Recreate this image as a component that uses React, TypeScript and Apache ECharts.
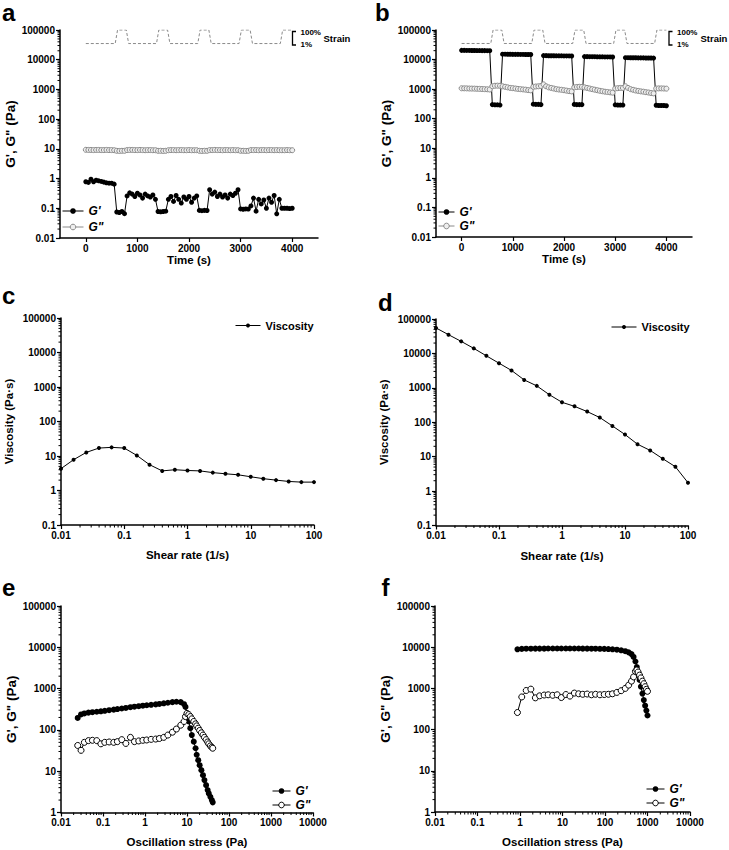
import React, { useEffect, useRef } from 'react';
import * as echarts from 'echarts';

const FONT = '"Liberation Sans", Arial, Helvetica, sans-serif';

// ---------- Panels a & b : time sweep ----------
const timeS = [
  0, 50, 100, 150, 200, 250, 300, 350, 400, 450, 500, 550,
  600, 650, 700, 750,
  800, 850, 900, 950, 1000, 1050, 1100, 1150, 1200, 1250, 1300, 1350,
  1400, 1450, 1500, 1550,
  1600, 1650, 1700, 1750, 1800, 1850, 1900, 1950, 2000, 2050, 2100, 2150,
  2200, 2250, 2300, 2350,
  2400, 2450, 2500, 2550, 2600, 2650, 2700, 2750, 2800, 2850, 2900, 2950,
  3000, 3050, 3100, 3150,
  3200, 3250, 3300, 3350, 3400, 3450, 3500, 3550, 3600, 3650, 3700, 3750,
  3800, 3850, 3900, 3950, 4000,
];
const gPrimeA = [
  0.78, 0.74, 0.95, 0.78, 0.88, 0.84, 0.8, 0.76, 0.72, 0.7, 0.7, 0.65,
  0.075, 0.072, 0.078, 0.066,
  0.26, 0.33, 0.3, 0.25, 0.32, 0.28, 0.22, 0.3, 0.26, 0.24, 0.28, 0.2,
  0.078, 0.076, 0.078, 0.08,
  0.2, 0.25, 0.17, 0.27, 0.2, 0.15, 0.24, 0.2, 0.25, 0.16, 0.22, 0.26,
  0.085, 0.083, 0.085, 0.084,
  0.42, 0.3, 0.35, 0.25, 0.3, 0.24, 0.28, 0.22, 0.3, 0.27, 0.32, 0.42,
  0.095, 0.093, 0.095, 0.094,
  0.12, 0.22, 0.08, 0.2, 0.14, 0.19, 0.1, 0.22, 0.16, 0.27, 0.065, 0.2,
  0.1, 0.1, 0.1, 0.098, 0.1,
];
const gDoublePrimeA = [
  9.3, 9.2, 9.2, 9.1, 9.2, 9.2, 9.1, 9.1, 9.2, 9.1, 9.1, 9.0,
  8.6, 8.5, 8.6, 8.6,
  9.1, 9.2, 9.2, 9.1, 9.1, 9.2, 9.1, 9.0, 9.1, 9.1, 9.0, 9.0,
  8.6, 8.6, 8.5, 8.6,
  9.0, 9.1, 9.1, 9.0, 9.1, 9.1, 9.0, 9.0, 9.1, 9.0, 9.0, 9.0,
  8.6, 8.5, 8.6, 8.6,
  9.1, 9.1, 9.2, 9.1, 9.1, 9.0, 9.1, 9.1, 9.0, 9.1, 9.0, 9.0,
  8.6, 8.6, 8.5, 8.6,
  9.1, 9.1, 9.1, 9.0, 9.1, 9.1, 9.0, 9.1, 9.1, 9.0, 9.1, 9.0,
  9.0, 9.0, 9.1, 9.0, 9.0,
];
const gPrimeB = [
  20500, 20500, 20400, 20400, 20300, 20300, 20200, 20200, 20100, 20100, 20000, 20000,
  300, 295, 295, 290,
  15200, 15200, 15100, 15100, 15000, 15000, 15000, 14900, 14900, 14800, 14800, 14800,
  310, 305, 305, 300,
  13600, 13600, 13500, 13500, 13500, 13400, 13400, 13400, 13300, 13300, 13300, 13200,
  305, 300, 300, 300,
  12600, 12600, 12500, 12500, 12500, 12400, 12400, 12400, 12300, 12300, 12300, 12200,
  295, 290, 290, 290,
  11600, 11600, 11500, 11500, 11500, 11400, 11400, 11400, 11300, 11300, 11300, 11200,
  285, 280, 280, 280, 275,
];
const gDoublePrimeB = [
  1070, 1065, 1060, 1050, 1045, 1040, 1030, 1020, 1010, 1000, 990, 970,
  1250, 1300, 1310, 1300,
  1250, 1200, 1150, 1100, 1080, 1050, 1020, 1000, 980, 960, 930, 910,
  1200, 1230, 1250, 1280,
  1450, 1250, 1150, 1100, 1050, 1000, 970, 950, 920, 890, 860, 840,
  1150, 1180, 1200, 1190,
  1150, 1100, 1050, 1000, 960, 920, 880, 850, 820, 800, 780, 760,
  1050, 1080, 1100, 1100,
  1250, 1100, 1000, 950, 900, 870, 840, 820, 790, 770, 740, 720,
  1050, 1060, 1060, 1050, 1040,
];
// schematic strain programme (1% / 100%) drawn at the top of panels a & b
const strainTime = [0, 570, 615, 785, 830, 1370, 1415, 1585, 1630, 2170, 2215, 2385, 2430, 2970, 3015, 3185, 3230, 3770, 3815, 4000];
const strainLevel = [35000, 35000, 100000, 100000, 35000, 35000, 100000, 100000, 35000, 35000, 100000, 100000, 35000, 35000, 100000, 100000, 35000, 35000, 100000, 100000];

// ---------- Panels c & d : flow curves ----------
const shearRate = [0.01, 0.0158, 0.0251, 0.0398, 0.0631, 0.1, 0.158, 0.251, 0.398, 0.631, 1, 1.58, 2.51, 3.98, 6.31, 10, 15.8, 25.1, 39.8, 63.1, 100];
const viscosityC = [4.3, 7.8, 12.7, 17, 17.8, 17, 10.4, 5.6, 3.7, 4.0, 3.8, 3.7, 3.3, 3.05, 2.85, 2.5, 2.2, 2.0, 1.83, 1.75, 1.75];
const viscosityD = [55000, 35000, 22400, 14000, 8500, 5200, 3200, 1700, 1140, 630, 380, 290, 204, 137, 78, 44, 23, 15.2, 8.7, 5.1, 1.75];

// ---------- Panels e & f : stress sweeps ----------
const stressE = [
  0.025, 0.03, 0.036, 0.045, 0.056, 0.071, 0.089, 0.11, 0.14, 0.18,
  0.22, 0.28, 0.35, 0.45, 0.56, 0.71, 0.89, 1.1, 1.4, 1.8,
  2.2, 2.8, 3.5, 4.5, 5.6, 7.1, 8.5, 9.2, 10, 11,
  12, 13, 14.5, 16, 17, 18.5, 20, 22, 24, 26,
  28.5, 31, 33, 36, 39, 41,
];
const gPrimeE = [
  195, 237, 250, 262, 268, 275, 282, 290, 300, 310,
  320, 330, 340, 355, 365, 375, 385, 395, 405, 415,
  425, 440, 455, 470, 480, 470, 420, 360, 250, 160,
  110, 75, 52, 36, 25, 18.5, 14, 10.6, 8, 6.1,
  4.6, 3.5, 2.9, 2.4, 2.0, 1.76,
];
const gDoublePrimeE = [
  42, 32, 50, 55, 56, 55, 46, 50, 51, 50,
  52, 58, 47, 66, 52, 54, 56, 57, 59, 60,
  62, 66, 75, 88, 105, 130, 160, 210, 250, 235,
  210, 185, 160, 140, 125, 110, 97, 85, 75, 66,
  58, 51, 46, 41, 38, 36,
];
const stressF = [
  0.87, 1.1, 1.4, 1.8, 2.3, 2.9, 3.7, 4.6, 5.9, 7.5,
  9.4, 12, 15, 19, 24, 30, 38, 48, 60, 76,
  96, 120, 150, 190, 240, 300, 360, 420, 470, 520,
  560, 600, 650, 700, 760, 820, 880, 940, 1000,
];
const gPrimeF = [
  8900, 9100, 9200, 9200, 9250, 9250, 9250, 9300, 9300, 9300,
  9300, 9300, 9300, 9300, 9300, 9250, 9250, 9200, 9200, 9150,
  9100, 9000, 8900, 8700, 8400, 8000, 7500, 6800, 5800, 4500,
  3300, 2300, 1600, 1100, 750, 520, 380, 290, 220,
];
const gDoublePrimeF = [
  260, 620, 890, 960, 590, 660, 690, 700, 680, 700,
  600, 710, 650, 770, 740, 720, 730, 700, 720, 700,
  710, 720, 740, 800, 880, 1000, 1200, 1500, 1900, 2600,
  2800, 2500, 2100, 1800, 1500, 1300, 1100, 950, 850,
];

const timeTicks = [0, 1000, 2000, 3000, 4000];

// ---------- helpers ----------
const zip = (xs: number[], ys: number[]) => xs.map((x, i) => [x, ys[i]]);

// log-axis minor tick positions (2..9 x 10^k) — axis decoration, not data
const minorLogTicks = (kFrom: number, kTo: number) => {
  const out: number[] = [];
  for (let k = kFrom; k <= kTo; k++) {
    for (let m = 2; m <= 9; m++) out.push(parseFloat((m * Math.pow(10, k)).toPrecision(6)));
  }
  return out;
};

const logLabel = (v: number) => String(parseFloat(Number(v).toPrecision(6)));

const tickLabel = {
  color: '#000',
  fontSize: 10,
  fontWeight: 'bold' as const,
  fontFamily: FONT,
  margin: 5,
};
const nameStyle = {
  color: '#000',
  fontSize: 11.5,
  fontWeight: 'bold' as const,
  fontFamily: FONT,
};
const gNameStyle = { ...nameStyle, fontSize: 13.5 };
const axisLine = { show: true, onZero: false, lineStyle: { color: '#000', width: 1.5 } };
const axisTick = { show: true, length: 4, lineStyle: { color: '#000', width: 1.2 } };

function logAxis(gridIndex: number, min: number, max: number, name: string, nameGap: number, nStyle: any = nameStyle) {
  return {
    type: 'log',
    logBase: 10,
    gridIndex,
    min,
    max,
    name,
    nameLocation: 'middle',
    nameGap,
    nameTextStyle: nStyle,
    axisLine,
    axisTick,
    axisLabel: { ...tickLabel, formatter: logLabel },
    splitLine: { show: false },
  };
}

function timeAxis(gridIndex: number, nameGap: number) {
  return {
    type: 'value',
    gridIndex,
    min: -500,
    max: 4500,
    name: 'Time (s)',
    nameLocation: 'middle',
    nameGap,
    nameTextStyle: nameStyle,
    axisLine,
    axisTick: { ...axisTick, customValues: timeTicks },
    axisLabel: {
      ...tickLabel,
      customValues: timeTicks,
      formatter: (v: number) => (v % 1000 === 0 && v >= 0 && v <= 4000 ? String(v) : ''),
    },
    splitLine: { show: false },
  };
}

function yMinor(idx: number, xAt: number, vals: number[]) {
  return {
    type: 'custom',
    xAxisIndex: idx,
    yAxisIndex: idx,
    silent: true,
    z: 1,
    data: vals.map((v) => [xAt, v]),
    renderItem: (_p: any, api: any) => {
      const p = api.coord([api.value(0), api.value(1)]);
      return {
        type: 'line',
        shape: { x1: p[0] - 2.5, y1: p[1], x2: p[0], y2: p[1] },
        style: { stroke: '#000', lineWidth: 1 },
      };
    },
  };
}
function xMinor(idx: number, yAt: number, vals: number[]) {
  return {
    type: 'custom',
    xAxisIndex: idx,
    yAxisIndex: idx,
    silent: true,
    z: 1,
    data: vals.map((v) => [v, yAt]),
    renderItem: (_p: any, api: any) => {
      const p = api.coord([api.value(0), api.value(1)]);
      return {
        type: 'line',
        shape: { x1: p[0], y1: p[1], x2: p[0], y2: p[1] + 2.5 },
        style: { stroke: '#000', lineWidth: 1 },
      };
    },
  };
}

const blackStyle = { itemStyle: { color: '#000' }, lineStyle: { color: '#000', width: 1 } };
const greyOpen = {
  itemStyle: { color: '#eeeeee', borderColor: '#8a8a8a', borderWidth: 1 },
  lineStyle: { color: '#8a8a8a', width: 1 },
};
const blackOpen = {
  itemStyle: { color: '#ffffff', borderColor: '#000', borderWidth: 1 },
  lineStyle: { color: '#000', width: 1 },
};

function lineSeries(name: string, idx: number, data: number[][], size: number, style: any, z = 3) {
  return {
    type: 'line',
    name,
    xAxisIndex: idx,
    yAxisIndex: idx,
    data,
    symbol: 'circle',
    symbolSize: size,
    showSymbol: true,
    z,
    ...style,
  };
}

const legendText = { color: '#000', fontSize: 12, fontWeight: 'bold' as const, fontStyle: 'italic' as const, fontFamily: FONT };

function gLegend(left: number, top: number, width: number, gap: number, gppStyle: any) {
  return {
    orient: 'vertical',
    left,
    top,
    padding: 0,
    itemWidth: width,
    itemHeight: 7,
    itemGap: gap,
    selectedMode: false,
    textStyle: legendText,
    data: [
      { name: "G'", itemStyle: blackStyle.itemStyle, lineStyle: blackStyle.lineStyle },
      { name: 'G"', itemStyle: gppStyle.itemStyle, lineStyle: gppStyle.lineStyle },
    ],
  };
}

function strainAnnotation(bx: number, tx: number, sx: number) {
  return [
    {
      type: 'polyline',
      shape: { points: [[bx + 3.5, 31.5], [bx, 31.5], [bx, 45], [bx + 3.5, 45]] },
      style: { stroke: '#000', lineWidth: 1.3, fill: null },
    },
    { type: 'text', x: tx, y: 32, style: { text: '100%', fill: '#000', fontSize: 8, fontWeight: 'bold', fontFamily: FONT, verticalAlign: 'middle' } },
    { type: 'text', x: tx, y: 44, style: { text: '1%', fill: '#000', fontSize: 8, fontWeight: 'bold', fontFamily: FONT, verticalAlign: 'middle' } },
    { type: 'text', x: sx, y: 38, style: { text: 'Strain', fill: '#000', fontSize: 9.5, fontWeight: 'bold', fontFamily: FONT, verticalAlign: 'middle' } },
  ];
}

const panelTitle = (text: string, left: number, top: number) => ({
  text,
  left,
  top,
  padding: 0,
  textStyle: { color: '#000', fontSize: 24, fontWeight: 'bold', fontFamily: FONT },
});

export default function App() {
  const ref = useRef<HTMLDivElement>(null);
  useEffect(() => {
    if (!ref.current) return;
    const chart = echarts.init(ref.current, null, { renderer: 'svg' });
    const gYName = 'G\', G" (Pa)';
    const option: any = {
      animation: false,
      backgroundColor: '#ffffff',
      textStyle: { fontFamily: FONT },
      title: [
        panelTitle('a', 2, 0),
        panelTitle('b', 375, 0),
        panelTitle('c', 2, 283.5),
        panelTitle('d', 378, 290),
        panelTitle('e', 2, 575.5),
        panelTitle('f', 381.5, 575.5),
      ],
      grid: [
        { left: 60, top: 30, width: 258, height: 208 },
        { left: 436, top: 30, width: 256, height: 207 },
        { left: 61, top: 318, width: 253, height: 207 },
        { left: 436, top: 319, width: 252, height: 206.5 },
        { left: 61, top: 606, width: 252, height: 206.5 },
        { left: 435, top: 606, width: 255, height: 206 },
      ],
      xAxis: [
        timeAxis(0, 13),
        timeAxis(1, 14),
        logAxis(2, 0.01, 100, 'Shear rate (1/s)', 24),
        logAxis(3, 0.01, 100, 'Shear rate (1/s)', 24),
        logAxis(4, 0.01, 10000, 'Oscillation stress (Pa)', 23.5),
        logAxis(5, 0.01, 10000, 'Oscillation stress (Pa)', 23.5),
      ],
      yAxis: [
        logAxis(0, 0.01, 100000, gYName, 34, gNameStyle),
        logAxis(1, 0.01, 100000, gYName, 34, gNameStyle),
        logAxis(2, 0.1, 100000, 'Viscosity (Pa·s)', 46),
        logAxis(3, 0.1, 100000, 'Viscosity (Pa·s)', 46),
        logAxis(4, 1, 100000, gYName, 31.5, gNameStyle),
        logAxis(5, 1, 100000, gYName, 29, gNameStyle),
      ],
      legend: [
        gLegend(62, 205, 21, 4, greyOpen),
        gLegend(438, 206, 16, 2, greyOpen),
        {
          left: 235, top: 320, padding: 0, itemWidth: 25, itemHeight: 5, selectedMode: false,
          textStyle: { color: '#000', fontSize: 11, fontWeight: 'bold', fontFamily: FONT },
          data: [{ name: 'Viscosity', itemStyle: blackStyle.itemStyle, lineStyle: blackStyle.lineStyle }],
        },
        {
          left: 611, top: 321.5, padding: 0, itemWidth: 25, itemHeight: 5, selectedMode: false,
          textStyle: { color: '#000', fontSize: 11, fontWeight: 'bold', fontFamily: FONT },
          data: [{ name: 'Viscosity', itemStyle: blackStyle.itemStyle, lineStyle: blackStyle.lineStyle }],
        },
        gLegend(272, 785, 18, 2, blackOpen),
        gLegend(646, 783, 18, 2, blackOpen),
      ],
      graphic: [...strainAnnotation(292.5, 300.5, 323.5), ...strainAnnotation(669, 677, 700.5)],
      series: [
        // panel a
        {
          type: 'line', name: 'Strain', xAxisIndex: 0, yAxisIndex: 0, symbol: 'none', z: 2,
          data: zip(strainTime, strainLevel), lineStyle: { color: '#8a8a8a', width: 1, type: [3, 2] },
        },
        lineSeries('G"', 0, zip(timeS, gDoublePrimeA), 5, greyOpen),
        lineSeries("G'", 0, zip(timeS, gPrimeA), 5, blackStyle, 4),
        yMinor(0, -500, minorLogTicks(-2, 4)),
        // panel b
        {
          type: 'line', name: 'Strain', xAxisIndex: 1, yAxisIndex: 1, symbol: 'none', z: 2,
          data: zip(strainTime, strainLevel), lineStyle: { color: '#8a8a8a', width: 1, type: [3, 2] },
        },
        lineSeries("G'", 1, zip(timeS, gPrimeB), 5, blackStyle),
        lineSeries('G"', 1, zip(timeS, gDoublePrimeB), 5, greyOpen, 4),
        yMinor(1, -500, minorLogTicks(-2, 4)),
        // panel c
        lineSeries('Viscosity', 2, zip(shearRate, viscosityC), 4, blackStyle),
        yMinor(2, 0.01, minorLogTicks(-1, 4)),
        xMinor(2, 0.1, minorLogTicks(-2, 1)),
        // panel d
        lineSeries('Viscosity', 3, zip(shearRate, viscosityD), 4, blackStyle),
        yMinor(3, 0.01, minorLogTicks(-1, 4)),
        xMinor(3, 0.1, minorLogTicks(-2, 1)),
        // panel e
        lineSeries("G'", 4, zip(stressE, gPrimeE), 6, blackStyle),
        lineSeries('G"', 4, zip(stressE, gDoublePrimeE), 6, blackOpen, 4),
        yMinor(4, 0.01, minorLogTicks(0, 4)),
        xMinor(4, 1, minorLogTicks(-2, 3)),
        // panel f
        lineSeries("G'", 5, zip(stressF, gPrimeF), 6, blackStyle),
        lineSeries('G"', 5, zip(stressF, gDoublePrimeF), 6, blackOpen, 4),
        yMinor(5, 0.01, minorLogTicks(0, 4)),
        xMinor(5, 1, minorLogTicks(-2, 3)),
      ],
    };
    chart.setOption(option);
    return () => chart.dispose();
  }, []);
  return (
    <div
      ref={ref}
      style={{ position: 'absolute', left: 0, top: 0, width: 729, height: 850, background: '#fff' }}
    />
  );
}
